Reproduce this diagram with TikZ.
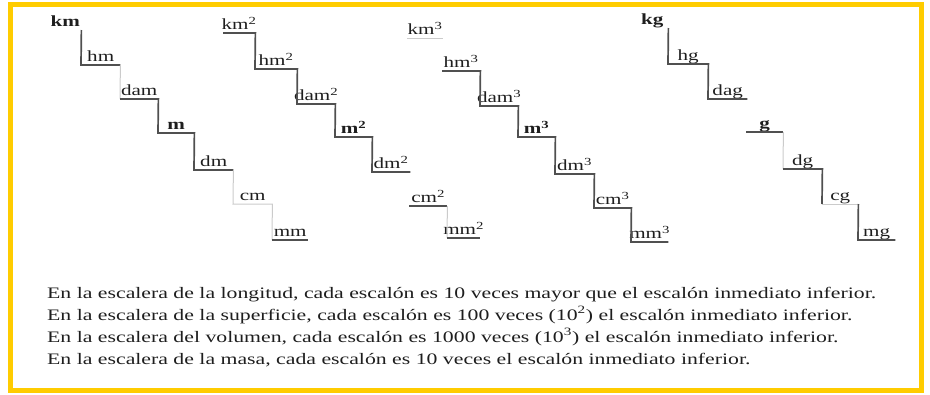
\documentclass[tikz,border=0pt]{standalone}
\usepackage{fontspec}
\setmainfont{Liberation Serif}
\usepackage{xcolor}
\usetikzlibrary{positioning}

\definecolor{frameyellow}{RGB}{255,204,0}
\definecolor{stairgray}{RGB}{80,80,80}
\definecolor{inkgray}{RGB}{30,30,30}

% the scanned figure is set wide
\newcommand{\stretchtext}[1]{\scalebox{1.36}[1]{#1}}
\newcommand{\wider}[1]{\makebox[0pt]{\stretchtext{#1}}}

\begin{document}
\begin{tikzpicture}[x=1pt, y=-1pt, font=\fontsize{15.5}{18}\selectfont, text=inkgray,
    stepbox/.style={anchor=south west, minimum width=#1, inner xsep=0pt, inner ysep=3pt,
        text height=11pt, text depth=0pt},
    stepbox/.default=38pt,
    stair/.style={draw=stairgray, line width=1.7pt},
    faint/.style={draw=stairgray!30, line width=1pt},
    sentence/.style={anchor=base west, inner sep=0pt, font=\fontsize{16}{18}\selectfont}
]
\useasboundingbox (0,0) rectangle (930,394);
\draw[frameyellow, line width=5pt] (10,4) rectangle (921,390);

% Longitud
\node[stepbox=32pt] (km) at (49,30) {\wider{\textbf{km}}};
\node[stepbox=39pt] (hm) at (81,65) {\wider{hm}};
\node[stepbox=38pt] (dam) at (120,99) {\wider{dam}};
\node[stepbox=36pt] (m) at (158,133) {\wider{\textbf{m}}};
\node[stepbox=39pt] (dm) at (194,170) {\wider{dm}};
\node[stepbox=39pt] (cm) at (233,204) {\wider{cm}};
\node[stepbox=36pt] (mm) at (272,240) {\wider{mm}};
\draw[stair] (km.south east) -- (hm.south west) -- (hm.south east);
\draw[faint] (hm.south east) -- (dam.south west);
\draw[stair] (dam.south west) -- (dam.south east) -- (m.south west) -- (m.south east) -- (dm.south west) -- (dm.south east);
\draw[faint] (dm.south east) -- (cm.south west) -- (cm.south east) -- (mm.south west);
\draw[stair] (mm.south west) -- (mm.south east);

% Superficie
\node[stepbox=32pt] (km2) at (223,33) {\wider{km\textsuperscript{2}}};
\node[stepbox=42pt] (hm2) at (255,69) {\wider{hm\textsuperscript{2}}};
\node[stepbox=38pt] (dam2) at (297,104) {\wider{dam\textsuperscript{2}}};
\node[stepbox=37pt] (m2) at (335,137) {\wider{\textbf{m\textsuperscript{2}}}};
\node[stepbox=38pt] (dm2) at (372,172) {\wider{dm\textsuperscript{2}}};
\node[stepbox=38pt] (cm2) at (409,206) {\wider{cm\textsuperscript{2}}};
\node[stepbox=33pt] (mm2) at (447,238) {\wider{mm\textsuperscript{2}}};
\draw[stair] (km2.south west) -- (km2.south east) -- (hm2.south west) -- (hm2.south east) -- (dam2.south west) -- (dam2.south east)
    -- (m2.south west) -- (m2.south east) -- (dm2.south west) -- (dm2.south east);
\draw[stair] (cm2.south west) -- (cm2.south east);
\draw[faint] (cm2.south east) -- (mm2.south west);
\draw[stair] (mm2.south west) -- (mm2.south east);

% Volumen
\node[stepbox=36pt] (km3) at (407,38) {\wider{km\textsuperscript{3}}};
\node[stepbox=38pt] (hm3) at (442,71) {\wider{hm\textsuperscript{3}}};
\node[stepbox=38pt] (dam3) at (480,106) {\wider{dam\textsuperscript{3}}};
\node[stepbox=37pt] (m3) at (518,137) {\wider{\textbf{m\textsuperscript{3}}}};
\node[stepbox=39pt] (dm3) at (555,174) {\wider{dm\textsuperscript{3}}};
\node[stepbox=37pt] (cm3) at (594,208) {\wider{cm\textsuperscript{3}}};
\node[stepbox=37pt] (mm3) at (631,242) {\wider{mm\textsuperscript{3}}};
\draw[faint] (km3.south west) -- (km3.south east);
\draw[stair] (hm3.south west) -- (hm3.south east) -- (dam3.south west) -- (dam3.south east) -- (m3.south west) -- (m3.south east)
    -- (dm3.south west) -- (dm3.south east) -- (cm3.south west) -- (cm3.south east) -- (mm3.south west) -- (mm3.south east);

% Masa
\node[stepbox=32pt] (kg) at (636,28) {\wider{\textbf{kg}}};
\node[stepbox=40pt] (hg) at (668,64) {\wider{hg}};
\node[stepbox=39pt] (dag) at (708,99) {\wider{dag}};
\node[stepbox=37pt] (g) at (746,132) {\wider{\textbf{g}}};
\node[stepbox=39pt] (dg) at (783,169) {\wider{dg}};
\node[stepbox=36pt] (cg) at (822,204) {\wider{cg}};
\node[stepbox=37pt] (mg) at (858,240) {\wider{mg}};
\draw[stair] (kg.south east) -- (hg.south west) -- (hg.south east) -- (dag.south west) -- (dag.south east);
\draw[stair] (g.south west) -- (g.south east);
\draw[faint] (g.south east) -- (dg.south west);
\draw[stair] (dg.south west) -- (dg.south east) -- (cg.south west);
\draw[faint] (cg.south west) -- (cg.south east);
\draw[stair] (cg.south east) -- (mg.south west) -- (mg.south east);

% Texto
\node[sentence] (line1) at (47,298) {\stretchtext{En la escalera de la longitud, cada escalón es 10 veces mayor que el escalón inmediato inferior.}};
\node[sentence] (line2) at (47,320) {\stretchtext{En la escalera de la superficie, cada escalón es 100 veces (10\textsuperscript{2}) el escalón inmediato inferior.}};
\node[sentence] (line3) at (47,342) {\stretchtext{En la escalera del volumen, cada escalón es 1000 veces (10\textsuperscript{3}) el escalón inmediato inferior.}};
\node[sentence] (line4) at (47,364) {\stretchtext{En la escalera de la masa, cada escalón es 10 veces el escalón inmediato inferior.}};
\end{tikzpicture}
\end{document}
